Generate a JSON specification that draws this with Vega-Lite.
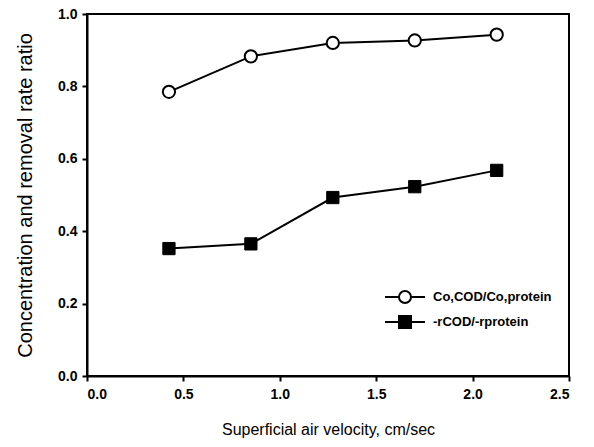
{
  "$schema": "https://vega.github.io/schema/vega-lite/v6.json",
  "width": 482,
  "height": 362,
  "autosize": {"type": "none"},
  "padding": {"left": 87, "top": 14, "right": 25, "bottom": 71},
  "background": "white",
  "config": {
    "view": {"stroke": "black", "strokeWidth": 2},
    "font": "Liberation Sans",
    "axis": {
      "grid": false,
      "domainColor": "black",
      "domainWidth": 2,
      "tickColor": "black",
      "tickWidth": 2,
      "tickSize": 5,
      "labelFont": "Liberation Sans",
      "labelFontWeight": "bold",
      "labelFontSize": 14,
      "labelColor": "black",
      "titleFont": "Liberation Sans",
      "titleFontWeight": "normal",
      "titleColor": "black"
    }
  },
  "data": {
    "values": [
      {"v": 0.425, "r": 0.785, "series": "A", "label": "Co,COD/Co,protein"},
      {"v": 0.85, "r": 0.883, "series": "A", "label": "Co,COD/Co,protein"},
      {"v": 1.275, "r": 0.92, "series": "A", "label": "Co,COD/Co,protein"},
      {"v": 1.7, "r": 0.927, "series": "A", "label": "Co,COD/Co,protein"},
      {"v": 2.125, "r": 0.943, "series": "A", "label": "Co,COD/Co,protein"},
      {"v": 0.425, "r": 0.352, "series": "B", "label": "-rCOD/-rprotein"},
      {"v": 0.85, "r": 0.365, "series": "B", "label": "-rCOD/-rprotein"},
      {"v": 1.275, "r": 0.493, "series": "B", "label": "-rCOD/-rprotein"},
      {"v": 1.7, "r": 0.523, "series": "B", "label": "-rCOD/-rprotein"},
      {"v": 2.125, "r": 0.568, "series": "B", "label": "-rCOD/-rprotein"}
    ]
  },
  "encoding": {
    "x": {
      "field": "v", "type": "quantitative",
      "scale": {"domain": [0, 2.5], "nice": false, "zero": false},
      "axis": {"values": [0, 0.5, 1, 1.5, 2, 2.5], "format": ".1f", "title": "Superficial air velocity, cm/sec", "titleFontSize": 16, "titlePadding": 20, "labelPadding": 6}
    },
    "y": {
      "field": "r", "type": "quantitative",
      "scale": {"domain": [0, 1], "nice": false},
      "axis": {"values": [0, 0.2, 0.4, 0.6, 0.8, 1.0], "format": ".1f", "title": "Concentration and removal rate ratio", "titleFontSize": 20, "titlePadding": 22, "labelPadding": 5}
    }
  },
  "layer": [
    {
      "mark": {"type": "line", "color": "black", "strokeWidth": 2},
      "encoding": {"detail": {"field": "series"}}
    },
    {
      "transform": [{"filter": "datum.series === 'A'"}],
      "mark": {"type": "point", "shape": "circle", "filled": true, "fill": "white", "stroke": "black", "strokeWidth": 2, "size": 150, "opacity": 1}
    },
    {
      "transform": [{"filter": "datum.series === 'B'"}],
      "mark": {"type": "point", "shape": "square", "filled": true, "fill": "black", "stroke": "black", "strokeWidth": 1, "size": 150, "opacity": 1}
    },
    {
      "mark": {"type": "point", "filled": true, "strokeWidth": 2, "opacity": 0, "size": 400},
      "encoding": {
        "shape": {
          "field": "label", "type": "nominal",
          "scale": {"domain": ["Co,COD/Co,protein", "-rCOD/-rprotein"], "range": ["M-2,0H-0.6M0.6,0H2M-0.6,0a0.6,0.6 0 1,0 1.2,0a0.6,0.6 0 1,0 -1.2,0", "M-2,0H2M-0.6,-0.6H0.6V0.6H-0.6Z"]},
          "legend": {
            "title": null, "orient": "none", "legendX": 307, "legendY": 272,
            "symbolOpacity": 1, "symbolStrokeWidth": 2, "symbolSize": 400,
            "labelFontSize": 13, "labelFontWeight": "bold", "labelColor": "black", "rowPadding": 4, "labelOffset": 17
          }
        },
        "fill": {
          "field": "label", "type": "nominal",
          "scale": {"domain": ["Co,COD/Co,protein", "-rCOD/-rprotein"], "range": ["white", "black"]}
        },
        "stroke": {
          "field": "label", "type": "nominal",
          "scale": {"domain": ["Co,COD/Co,protein", "-rCOD/-rprotein"], "range": ["black", "black"]}
        }
      }
    }
  ]
}
